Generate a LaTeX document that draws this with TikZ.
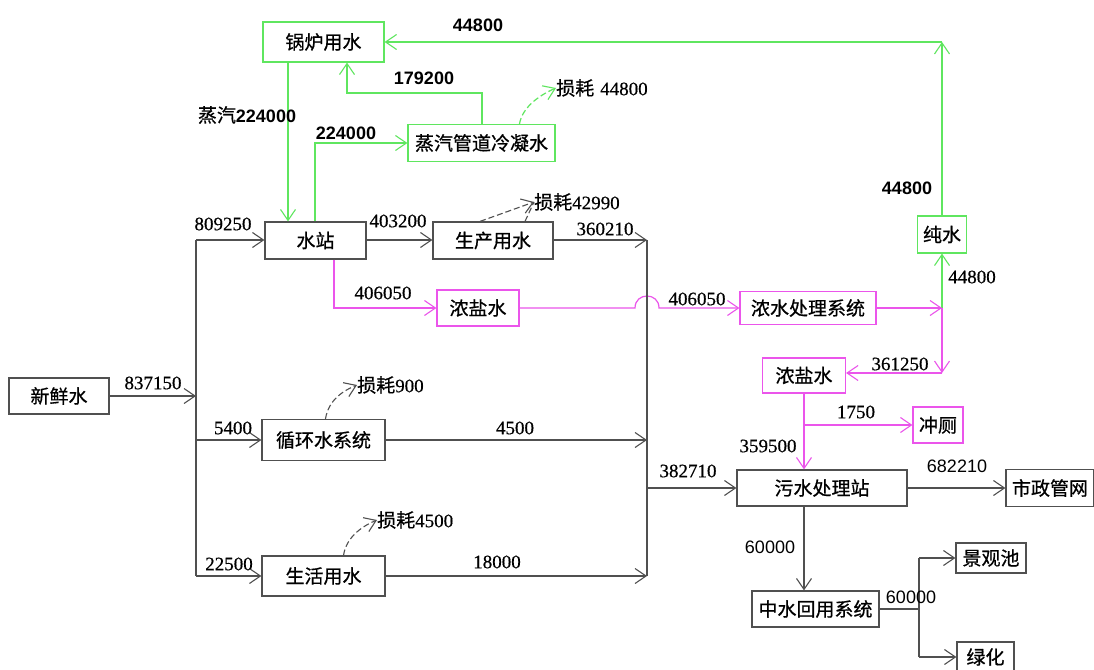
\documentclass[tikz,border=0pt]{standalone}
\usepackage{fontspec}
\usetikzlibrary{arrows.meta}
\newfontfamily\ZhFam[FakeBold=0.7]{Noto Sans CJK SC}
\newfontfamily\SansFam{Liberation Sans}
\newfontfamily\SerFam[FakeBold=0.5]{Liberation Serif}
\newcommand\Zh{\ZhFam\fontsize{19}{19}\selectfont}
\newcommand\NS{\SansFam\fontsize{18}{18}\selectfont}
\newcommand\NSB{\SansFam\bfseries\fontsize{18}{18}\selectfont}
\newcommand\NR{\SerFam\fontsize{19}{19}\selectfont}
\definecolor{dk}{RGB}{80,80,80}
\definecolor{gr}{RGB}{95,230,95}
\definecolor{mg}{RGB}{235,85,235}
\tikzset{
  box/.style={draw=dk, line width=1.2pt, rectangle, inner sep=0pt, font=\Zh, text=black},
  gbox/.style={box, draw=gr},
  mbox/.style={box, draw=mg},
  bl/.style={draw=dk, line width=1.1pt},
  gl/.style={draw=gr, line width=1.2pt},
  ml/.style={draw=mg, line width=1.2pt},
  arr/.style={-{Straight Barb[length=11pt,width=15pt,line width=1.1pt]}},
  lossdash/.style={dash pattern=on 6pt off 3pt},
  lab/.style={inner sep=0pt, text=black}
}
\begin{document}
\begin{tikzpicture}[x=1pt,y=-1pt]
\useasboundingbox (0,0) rectangle (1094,669);
\clip (0,0) rectangle (1094,669);
\fill[white] (0,0) rectangle (1094,669);

% nodes
\node[gbox, minimum width=121pt, minimum height=40pt] (boiler) at (323.5,42) {锅炉用水};
\node[gbox, minimum width=147pt, minimum height=37pt] (cond) at (481.5,143) {蒸汽管道冷凝水};
\node[box, minimum width=101pt, minimum height=37pt] (ws) at (315.5,240.5) {水站};
\node[box, minimum width=120pt, minimum height=37pt] (prod) at (493,240.5) {生产用水};
\node[mbox, minimum width=82pt, minimum height=36pt] (brine1) at (478,308) {浓盐水};
\node[mbox, minimum width=136pt, minimum height=33pt] (conc) at (808,308) {浓水处理系统};
\node[gbox, minimum width=49pt, minimum height=37pt] (pure) at (942,234.5) {纯水};
\node[mbox, minimum width=83pt, minimum height=35pt] (brine2) at (804,375.5) {浓盐水};
\node[mbox, minimum width=50pt, minimum height=36pt] (toilet) at (938,425) {冲厕};
\node[box, minimum width=100pt, minimum height=36pt] (fresh) at (59,396) {新鲜水};
\node[box, minimum width=123pt, minimum height=41pt] (circ) at (323.5,440) {循环水系统};
\node[box, minimum width=123pt, minimum height=40pt] (life) at (323.5,576) {生活用水};
\node[box, minimum width=170pt, minimum height=36pt] (sew) at (822,488) {污水处理站};
\node[box, minimum width=88pt, minimum height=37pt] (muni) at (1050,488) {市政管网};
\node[box, minimum width=127pt, minimum height=36pt] (reuse) at (815.5,609) {中水回用系统};
\node[box, minimum width=70pt, minimum height=30pt] (land) at (991,558) {景观池};
\node[box, minimum width=57pt, minimum height=30pt] (lvhua) at (985.5,657) {绿化};

% loss labels
\node[lab, anchor=west] (loss1) at (534,202) {{\Zh 损耗}{\NR 42990}};
\node[lab, anchor=west] (loss2) at (357,385) {{\Zh 损耗}{\NR 900}};
\node[lab, anchor=west] (loss3) at (377,520) {{\Zh 损耗}{\NR 4500}};
\node[lab, anchor=west] (loss4) at (556,88) {{\Zh 损耗}\hspace{6pt}{\NR 44800}};

% coordinates
\coordinate (xa) at (288,0);
\coordinate (xw) at (315,0);
\coordinate (xb) at (347,93);
\coordinate (xd) at (482,0);
\coordinate (xc) at (334,0);
\coordinate (tr) at (942,42);
\coordinate (J) at (942,308);
\coordinate (J2) at (942,373);
\coordinate (jp1) at (635,308);
\coordinate (jp2) at (647,296);
\coordinate (jp3) at (659,308);
\coordinate (T1) at (196,240);
\coordinate (T2) at (196,396);
\coordinate (T3) at (196,440);
\coordinate (T4) at (196,576);
\coordinate (C1) at (647,240);
\coordinate (C2) at (647,440);
\coordinate (C3) at (647,488);
\coordinate (C4) at (647,576);
\coordinate (R1) at (919,609);
\coordinate (R2) at (919,558);
\coordinate (R3) at (919,657);

% green connectors
\draw[gl,arr] (boiler.south -| xa) -- (ws.north -| xa);
\draw[gl,arr] (ws.north -| xw) |- (cond.west);
\draw[gl,arr] (cond.north -| xd) |- (xb) -- (boiler.south -| xb);
\draw[gl,arr] (pure) -- (tr);
\draw[gl,arr] (tr) -- (boiler);
\draw[gl,arr] (J) -- (pure);
\draw[gl,arr,lossdash] ([xshift=38pt]cond.north) .. controls +(3,-18) and +(-14,6) .. (loss4.west);

% magenta connectors
\draw[ml,arr] (conc) -- (J);
\draw[ml,arr] (J) -- (J2);
\draw[ml,arr] (J2) -- (J2 -| brine2.east);
\draw[ml,arr] (ws.south -| xc) |- (brine1.west);
\draw[ml,arr] (brine1.east) -- (jp1) .. controls +(0,-8) and +(-6,0) .. (jp2) .. controls +(6,0) and +(0,-8) .. (jp3) -- (conc.west);
\draw[ml,arr] (brine2) -- (brine2 |- sew.north);
\draw[ml,arr] (brine2 |- toilet) -- (toilet);

% black connectors
\draw[bl,arr] (fresh) -- (T2);
\draw[bl] (T1) -- (T4);
\draw[bl,arr] (T1) -- (T1 -| ws.west);
\draw[bl,arr] (T3) -- (circ);
\draw[bl,arr] (T4) -- (life);
\draw[bl,arr] (ws.east |- T1) -- (T1 -| prod.west);
\draw[bl,arr] (prod.east |- C1) -- (C1);
\draw[bl] (C1) -- (C4);
\draw[bl,arr] (circ) -- (C2);
\draw[bl,arr] (life) -- (C4);
\draw[bl,arr] (C3) -- (sew);
\draw[bl,arr] (sew) -- (muni);
\draw[bl,arr] (sew.south -| brine2) -- (reuse.north -| brine2);
\draw[bl] (reuse) -- (R1);
\draw[bl] (R2) -- (R3);
\draw[bl,arr] (R2) -- (land);
\draw[bl,arr] (R3) -- (lvhua);
\draw[bl,arr,lossdash] ([xshift=-13pt]prod.north) -- (loss1.west);
\draw[bl,lossdash] ([xshift=32pt]prod.north) -- (loss1.west);
\draw[bl,arr,lossdash] ([xshift=2pt]circ.north) .. controls +(3,-20) and +(-12,5) .. (loss2.west);
\draw[bl,arr,lossdash] ([xshift=20pt]life.north) .. controls +(3,-20) and +(-12,5) .. (loss3.west);

% number labels
\node[lab, font=\NSB] (n1) at (478,25) {44800};
\node[lab, font=\NSB] (n2) at (424,78) {179200};
\node[lab] (n3) at (247,115) {{\Zh 蒸汽}{\NSB 224000}};
\node[lab, font=\NSB] (n4) at (346,133) {224000};
\node[lab, font=\NSB] (n5) at (907,188) {44800};
\node[lab, font=\NS] (n6) at (957,466) {682210};
\node[lab, font=\NS] (n7) at (770,547) {60000};
\node[lab, font=\NS] (n8) at (911,597) {60000};
\node[lab, font=\NR] (n9) at (223,224) {809250};
\node[lab, font=\NR] (n10) at (398,221) {403200};
\node[lab, font=\NR] (n11) at (605,229) {360210};
\node[lab, font=\NR] (n12) at (383,293) {406050};
\node[lab, font=\NR] (n13) at (697,299) {406050};
\node[lab, font=\NR] (n14) at (972,277) {44800};
\node[lab, font=\NR] (n15) at (900,364) {361250};
\node[lab, font=\NR] (n16) at (856,412) {1750};
\node[lab, font=\NR] (n17) at (768,446) {359500};
\node[lab, font=\NR] (n18) at (688,471) {382710};
\node[lab, font=\NR] (n19) at (153,383) {837150};
\node[lab, font=\NR] (n20) at (233,428) {5400};
\node[lab, font=\NR] (n21) at (515,428) {4500};
\node[lab, font=\NR] (n22) at (229,564) {22500};
\node[lab, font=\NR] (n23) at (497,562) {18000};
\end{tikzpicture}
\end{document}
